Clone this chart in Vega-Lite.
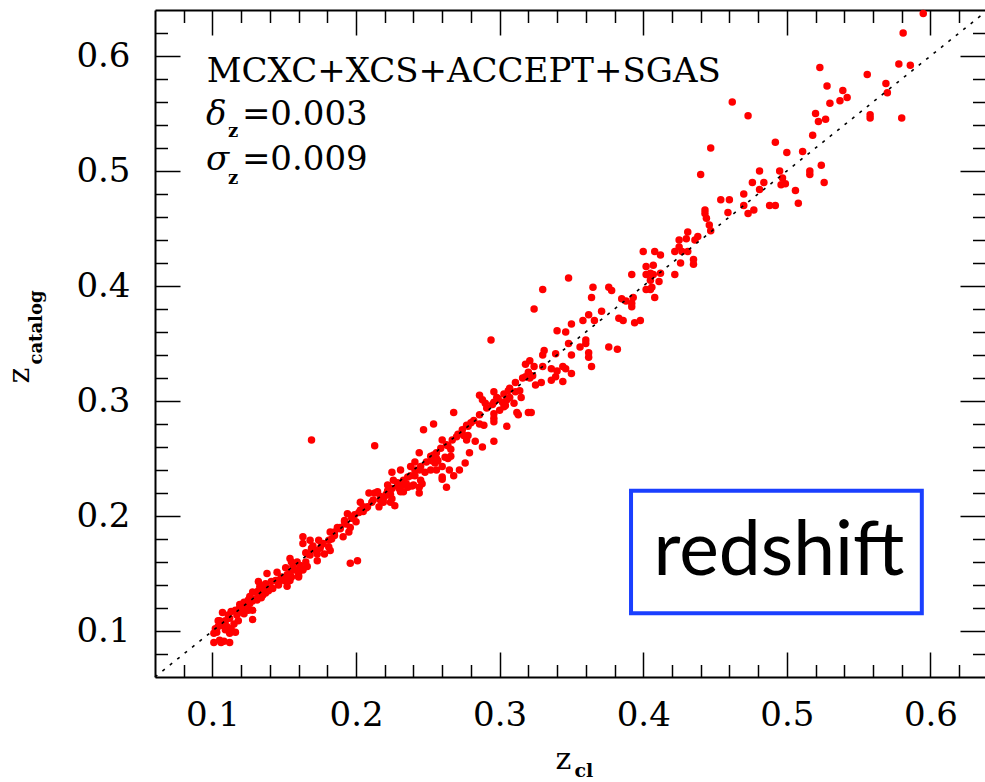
{
"$schema":"https://vega.github.io/schema/vega-lite/v6.json",
"width":830,"height":667,
"autosize":"none",
"padding":{"left":155,"top":10,"right":0,"bottom":105},
"background":"white",
"config":{
 "view":{"stroke":null},
 "axis":{"grid":false,"domain":false,"labels":false,"ticks":true,"tickColor":"black","tickWidth":1.5,"domainColor":"black","domainWidth":2,"labelFont":"DejaVu Serif","labelFontSize":34,"labelColor":"black","titleFont":"DejaVu Serif","titleColor":"black","titleFontWeight":"normal","labelOverlap":false,"labelFlush":false}
},
"datasets":{
 "clusters":[
{"zcl":0.595,"zcat":0.637},{"zcl":0.581,"zcat":0.620},{"zcl":0.523,"zcat":0.590},{"zcl":0.578,"zcat":0.593},{"zcl":0.586,"zcat":0.592},{"zcl":0.556,"zcat":0.584},{"zcl":0.528,"zcat":0.574},{"zcl":0.539,"zcat":0.570},{"zcl":0.569,"zcat":0.576},{"zcl":0.570,"zcat":0.568},{"zcl":0.542,"zcat":0.564},{"zcl":0.537,"zcat":0.561},{"zcl":0.530,"zcat":0.559},{"zcl":0.462,"zcat":0.560},{"zcl":0.473,"zcat":0.548},{"zcl":0.558,"zcat":0.549},{"zcl":0.558,"zcat":0.546},{"zcl":0.580,"zcat":0.546},{"zcl":0.520,"zcat":0.550},{"zcl":0.527,"zcat":0.545},{"zcl":0.522,"zcat":0.543},{"zcl":0.518,"zcat":0.531},{"zcl":0.447,"zcat":0.520},{"zcl":0.492,"zcat":0.525},{"zcl":0.500,"zcat":0.516},{"zcl":0.511,"zcat":0.517},{"zcl":0.524,"zcat":0.505},{"zcl":0.526,"zcat":0.490},{"zcl":0.516,"zcat":0.500},{"zcl":0.516,"zcat":0.497},{"zcl":0.495,"zcat":0.500},{"zcl":0.497,"zcat":0.494},{"zcl":0.496,"zcat":0.488},{"zcl":0.499,"zcat":0.489},{"zcl":0.506,"zcat":0.483},{"zcl":0.508,"zcat":0.472},{"zcl":0.481,"zcat":0.500},{"zcl":0.476,"zcat":0.490},{"zcl":0.484,"zcat":0.490},{"zcl":0.481,"zcat":0.484},{"zcl":0.470,"zcat":0.480},{"zcl":0.488,"zcat":0.470},{"zcl":0.492,"zcat":0.470},{"zcl":0.470,"zcat":0.470},{"zcl":0.477,"zcat":0.466},{"zcl":0.473,"zcat":0.463},{"zcl":0.454,"zcat":0.475},{"zcl":0.460,"zcat":0.475},{"zcl":0.459,"zcat":0.464},{"zcl":0.440,"zcat":0.497},{"zcl":0.443,"zcat":0.466},{"zcl":0.443,"zcat":0.463},{"zcl":0.444,"zcat":0.459},{"zcl":0.446,"zcat":0.453},{"zcl":0.447,"zcat":0.448},{"zcl":0.431,"zcat":0.447},{"zcl":0.430,"zcat":0.441},{"zcl":0.425,"zcat":0.440},{"zcl":0.425,"zcat":0.434},{"zcl":0.422,"zcat":0.430},{"zcl":0.427,"zcat":0.430},{"zcl":0.431,"zcat":0.430},{"zcl":0.438,"zcat":0.443},{"zcl":0.436,"zcat":0.440},{"zcl":0.435,"zcat":0.423},{"zcl":0.435,"zcat":0.419},{"zcl":0.426,"zcat":0.420},{"zcl":0.400,"zcat":0.430},{"zcl":0.408,"zcat":0.430},{"zcl":0.412,"zcat":0.427},{"zcl":0.402,"zcat":0.417},{"zcl":0.407,"zcat":0.418},{"zcl":0.402,"zcat":0.410},{"zcl":0.405,"zcat":0.411},{"zcl":0.407,"zcat":0.410},{"zcl":0.412,"zcat":0.411},{"zcl":0.392,"zcat":0.410},{"zcl":0.422,"zcat":0.410},{"zcl":0.405,"zcat":0.405},{"zcl":0.411,"zcat":0.404},{"zcl":0.406,"zcat":0.399},{"zcl":0.405,"zcat":0.397},{"zcl":0.408,"zcat":0.390},{"zcl":0.376,"zcat":0.399},{"zcl":0.378,"zcat":0.396},{"zcl":0.385,"zcat":0.389},{"zcl":0.393,"zcat":0.390},
{"zcl":0.348,"zcat":0.407},{"zcl":0.365,"zcat":0.399},{"zcl":0.330,"zcat":0.397},{"zcl":0.364,"zcat":0.390},{"zcl":0.388,"zcat":0.387},{"zcl":0.392,"zcat":0.385},{"zcl":0.392,"zcat":0.382},{"zcl":0.402,"zcat":0.397},{"zcl":0.324,"zcat":0.380},{"zcl":0.371,"zcat":0.378},{"zcl":0.383,"zcat":0.372},{"zcl":0.386,"zcat":0.370},{"zcl":0.394,"zcat":0.368},{"zcl":0.398,"zcat":0.370},{"zcl":0.362,"zcat":0.375},{"zcl":0.358,"zcat":0.370},{"zcl":0.366,"zcat":0.370},{"zcl":0.350,"zcat":0.367},{"zcl":0.340,"zcat":0.361},{"zcl":0.346,"zcat":0.360},{"zcl":0.294,"zcat":0.353},{"zcl":0.360,"zcat":0.353},{"zcl":0.360,"zcat":0.350},{"zcl":0.348,"zcat":0.350},{"zcl":0.356,"zcat":0.347},{"zcl":0.376,"zcat":0.347},{"zcl":0.382,"zcat":0.345},{"zcl":0.331,"zcat":0.344},{"zcl":0.330,"zcat":0.340},{"zcl":0.339,"zcat":0.341},{"zcl":0.350,"zcat":0.340},{"zcl":0.362,"zcat":0.342},{"zcl":0.362,"zcat":0.338},{"zcl":0.364,"zcat":0.330},{"zcl":0.321,"zcat":0.335},{"zcl":0.318,"zcat":0.332},{"zcl":0.330,"zcat":0.330},{"zcl":0.336,"zcat":0.328},{"zcl":0.340,"zcat":0.326},{"zcl":0.344,"zcat":0.330},{"zcl":0.346,"zcat":0.328},{"zcl":0.350,"zcat":0.324},{"zcl":0.339,"zcat":0.321},{"zcl":0.336,"zcat":0.318},{"zcl":0.344,"zcat":0.317},{"zcl":0.318,"zcat":0.321},{"zcl":0.321,"zcat":0.320},{"zcl":0.323,"zcat":0.322},{"zcl":0.329,"zcat":0.316},{"zcl":0.325,"zcat":0.314},{"zcl":0.286,"zcat":0.305},{"zcl":0.288,"zcat":0.301},{"zcl":0.290,"zcat":0.298},{"zcl":0.296,"zcat":0.308},{"zcl":0.298,"zcat":0.303},{"zcl":0.296,"zcat":0.299},{"zcl":0.302,"zcat":0.299},{"zcl":0.304,"zcat":0.296},{"zcl":0.305,"zcat":0.301},{"zcl":0.307,"zcat":0.303},{"zcl":0.306,"zcat":0.309},{"zcl":0.311,"zcat":0.308},{"zcl":0.314,"zcat":0.309},{"zcl":0.315,"zcat":0.303},{"zcl":0.310,"zcat":0.298},{"zcl":0.312,"zcat":0.290},{"zcl":0.313,"zcat":0.288},{"zcl":0.320,"zcat":0.290},{"zcl":0.322,"zcat":0.290},{"zcl":0.303,"zcat":0.295},{"zcl":0.296,"zcat":0.289},{"zcl":0.296,"zcat":0.285},{"zcl":0.296,"zcat":0.282},{"zcl":0.305,"zcat":0.278},{"zcl":0.296,"zcat":0.265},{"zcl":0.268,"zcat":0.290},{"zcl":0.254,"zcat":0.280},{"zcl":0.247,"zcat":0.275},{"zcl":0.277,"zcat":0.279},{"zcl":0.280,"zcat":0.281},{"zcl":0.286,"zcat":0.280},{"zcl":0.275,"zcat":0.270},{"zcl":0.278,"zcat":0.270},{"zcl":0.270,"zcat":0.269},{"zcl":0.283,"zcat":0.265},{"zcl":0.288,"zcat":0.260},{"zcl":0.279,"zcat":0.255},{"zcl":0.169,"zcat":0.266},{"zcl":0.213,"zcat":0.261},{"zcl":0.244,"zcat":0.255},{"zcl":0.260,"zcat":0.266},{"zcl":0.264,"zcat":0.261},{"zcl":0.266,"zcat":0.258},{"zcl":0.254,"zcat":0.253},{"zcl":0.256,"zcat":0.250},{"zcl":0.253,"zcat":0.248},{"zcl":0.255,"zcat":0.246},{"zcl":0.257,"zcat":0.248},{"zcl":0.262,"zcat":0.251},{"zcl":0.266,"zcat":0.252},{"zcl":0.256,"zcat":0.240},{"zcl":0.260,"zcat":0.243},{"zcl":0.265,"zcat":0.240},{"zcl":0.272,"zcat":0.240},{"zcl":0.276,"zcat":0.246},{"zcl":0.268,"zcat":0.235},{"zcl":0.260,"zcat":0.234},{"zcl":0.260,"zcat":0.232},{"zcl":0.263,"zcat":0.225},{"zcl":0.241,"zcat":0.247},{"zcl":0.238,"zcat":0.243},{"zcl":0.244,"zcat":0.240},{"zcl":0.248,"zcat":0.238},{"zcl":0.225,"zcat":0.238},{"zcl":0.231,"zcat":0.240},{"zcl":0.236,"zcat":0.234},{"zcl":0.241,"zcat":0.235},{"zcl":0.245,"zcat":0.231},{"zcl":0.246,"zcat":0.228},{"zcl":0.244,"zcat":0.225},{"zcl":0.240,"zcat":0.227},{"zcl":0.226,"zcat":0.231},{"zcl":0.229,"zcat":0.229},{"zcl":0.232,"zcat":0.227},{"zcl":0.235,"zcat":0.228},{"zcl":0.230,"zcat":0.224},{"zcl":0.233,"zcat":0.221},{"zcl":0.236,"zcat":0.225},{"zcl":0.222,"zcat":0.227},{"zcl":0.222,"zcat":0.222},{"zcl":0.224,"zcat":0.219},{"zcl":0.221,"zcat":0.218},{"zcl":0.209,"zcat":0.220},{"zcl":0.213,"zcat":0.220},{"zcl":0.217,"zcat":0.217},{"zcl":0.219,"zcat":0.215},{"zcl":0.244,"zcat":0.220},
{"zcl":0.227,"zcat":0.209},{"zcl":0.211,"zcat":0.212},{"zcl":0.205,"zcat":0.208},{"zcl":0.202,"zcat":0.203},{"zcl":0.205,"zcat":0.204},{"zcl":0.207,"zcat":0.207},{"zcl":0.216,"zcat":0.208},{"zcl":0.219,"zcat":0.212},{"zcl":0.224,"zcat":0.212},{"zcl":0.197,"zcat":0.198},{"zcl":0.200,"zcat":0.195},{"zcl":0.196,"zcat":0.190},{"zcl":0.192,"zcat":0.196},{"zcl":0.193,"zcat":0.193},{"zcl":0.189,"zcat":0.190},{"zcl":0.185,"zcat":0.183},{"zcl":0.187,"zcat":0.190},{"zcl":0.191,"zcat":0.182},{"zcl":0.195,"zcat":0.186},{"zcl":0.183,"zcat":0.180},{"zcl":0.177,"zcat":0.176},{"zcl":0.181,"zcat":0.173},{"zcl":0.175,"zcat":0.172},{"zcl":0.182,"zcat":0.170},{"zcl":0.178,"zcat":0.167},{"zcl":0.173,"zcat":0.167},{"zcl":0.163,"zcat":0.182},{"zcl":0.163,"zcat":0.176},{"zcl":0.168,"zcat":0.179},{"zcl":0.166,"zcat":0.167},{"zcl":0.170,"zcat":0.174},{"zcl":0.173,"zcat":0.161},{"zcl":0.196,"zcat":0.159},{"zcl":0.201,"zcat":0.161},{"zcl":0.154,"zcat":0.163},{"zcl":0.159,"zcat":0.160},{"zcl":0.161,"zcat":0.157},{"zcl":0.156,"zcat":0.156},{"zcl":0.166,"zcat":0.156},{"zcl":0.163,"zcat":0.154},{"zcl":0.160,"zcat":0.151},{"zcl":0.154,"zcat":0.150},{"zcl":0.155,"zcat":0.147},{"zcl":0.150,"zcat":0.144},{"zcl":0.160,"zcat":0.147},{"zcl":0.145,"zcat":0.151},{"zcl":0.138,"zcat":0.150},{"zcl":0.148,"zcat":0.147},{"zcl":0.145,"zcat":0.144},{"zcl":0.141,"zcat":0.143},{"zcl":0.137,"zcat":0.140},{"zcl":0.132,"zcat":0.143},{"zcl":0.133,"zcat":0.139},{"zcl":0.140,"zcat":0.137},{"zcl":0.146,"zcat":0.141},{"zcl":0.152,"zcat":0.139},{"zcl":0.137,"zcat":0.133},{"zcl":0.132,"zcat":0.133},{"zcl":0.128,"zcat":0.134},{"zcl":0.126,"zcat":0.130},{"zcl":0.134,"zcat":0.129},{"zcl":0.131,"zcat":0.127},{"zcl":0.128,"zcat":0.126},{"zcl":0.125,"zcat":0.127},{"zcl":0.122,"zcat":0.125},{"zcl":0.124,"zcat":0.122},{"zcl":0.119,"zcat":0.120},{"zcl":0.128,"zcat":0.110},{"zcl":0.125,"zcat":0.118},{"zcl":0.122,"zcat":0.115},{"zcl":0.116,"zcat":0.118},{"zcl":0.113,"zcat":0.117},{"zcl":0.117,"zcat":0.114},{"zcl":0.112,"zcat":0.111},{"zcl":0.109,"zcat":0.109},{"zcl":0.105,"zcat":0.109},{"zcl":0.106,"zcat":0.105},{"zcl":0.110,"zcat":0.104},{"zcl":0.115,"zcat":0.106},{"zcl":0.118,"zcat":0.109},{"zcl":0.113,"zcat":0.102},{"zcl":0.109,"zcat":0.101},{"zcl":0.104,"zcat":0.104},{"zcl":0.102,"zcat":0.102},{"zcl":0.101,"zcat":0.098},{"zcl":0.112,"zcat":0.098},{"zcl":0.116,"zcat":0.099},{"zcl":0.101,"zcat":0.090},{"zcl":0.105,"zcat":0.092},{"zcl":0.106,"zcat":0.090},{"zcl":0.112,"zcat":0.090},{"zcl":0.108,"zcat":0.091},
{"zcl":0.123,"zcat":0.121},{"zcl":0.126,"zcat":0.124},{"zcl":0.130,"zcat":0.128},{"zcl":0.135,"zcat":0.131},{"zcl":0.139,"zcat":0.135},{"zcl":0.142,"zcat":0.137},{"zcl":0.146,"zcat":0.140},{"zcl":0.148,"zcat":0.146},{"zcl":0.152,"zcat":0.149},{"zcl":0.157,"zcat":0.153},{"zcl":0.161,"zcat":0.156},{"zcl":0.165,"zcat":0.160},{"zcl":0.119,"zcat":0.123},{"zcl":0.132,"zcat":0.135},{"zcl":0.137,"zcat":0.141},{"zcl":0.151,"zcat":0.155},{"zcl":0.155,"zcat":0.160},{"zcl":0.160,"zcat":0.148},{"zcl":0.168,"zcat":0.166},{"zcl":0.172,"zcat":0.170},{"zcl":0.176,"zcat":0.175},{"zcl":0.181,"zcat":0.179},{"zcl":0.185,"zcat":0.186},{"zcl":0.189,"zcat":0.189},{"zcl":0.192,"zcat":0.195},{"zcl":0.169,"zcat":0.172},{"zcl":0.174,"zcat":0.179},{"zcl":0.165,"zcat":0.168},{"zcl":0.199,"zcat":0.201},{"zcl":0.203,"zcat":0.205},{"zcl":0.208,"zcat":0.208},{"zcl":0.212,"zcat":0.214},{"zcl":0.217,"zcat":0.214},{"zcl":0.221,"zcat":0.219},{"zcl":0.225,"zcat":0.224},{"zcl":0.229,"zcat":0.226},{"zcl":0.233,"zcat":0.231},{"zcl":0.238,"zcat":0.235},{"zcl":0.241,"zcat":0.240},{"zcl":0.245,"zcat":0.243},{"zcl":0.249,"zcat":0.247},{"zcl":0.252,"zcat":0.252},{"zcl":0.256,"zcat":0.255},{"zcl":0.259,"zcat":0.259},{"zcl":0.263,"zcat":0.262},{"zcl":0.267,"zcat":0.266},{"zcl":0.271,"zcat":0.271},{"zcl":0.274,"zcat":0.275},{"zcl":0.278,"zcat":0.278},{"zcl":0.282,"zcat":0.283},{"zcl":0.286,"zcat":0.288},{"zcl":0.291,"zcat":0.294},{"zcl":0.295,"zcat":0.297},{"zcl":0.299,"zcat":0.302},{"zcl":0.303,"zcat":0.306},{"zcl":0.307,"zcat":0.311},{"zcl":0.311,"zcat":0.316},{"zcl":0.316,"zcat":0.320},{"zcl":0.320,"zcat":0.325},{"zcl":0.324,"zcat":0.330},{"zcl":0.225,"zcat":0.215},{"zcl":0.231,"zcat":0.221},{"zcl":0.239,"zcat":0.226},{"zcl":0.252,"zcat":0.240},{"zcl":0.264,"zcat":0.250},{"zcl":0.277,"zcat":0.266},{"zcl":0.289,"zcat":0.279},{"zcl":0.300,"zcat":0.292},{"zcl":0.215,"zcat":0.221},{"zcl":0.203,"zcat":0.212},{"zcl":0.194,"zcat":0.202},{"zcl":0.182,"zcat":0.186},{"zcl":0.144,"zcat":0.144},{"zcl":0.135,"zcat":0.137},{"zcl":0.126,"zcat":0.128},{"zcl":0.121,"zcat":0.116},{"zcl":0.111,"zcat":0.114},{"zcl":0.107,"zcat":0.116},{"zcl":0.104,"zcat":0.109},{"zcl":0.103,"zcat":0.099},{"zcl":0.128,"zcat":0.118},{"zcl":0.154,"zcat":0.144},{"zcl":0.163,"zcat":0.153}
 ],
 "identity":[{"zcl":0.06,"zcat":0.06},{"zcl":0.638,"zcat":0.638}]
},
"layer":[
 {"data":{"name":"clusters"},
  "mark":{"type":"circle","size":56,"color":"#ff0000","opacity":1},
  "encoding":{
   "x":{"field":"zcl","type":"quantitative","scale":{"domain":[0.06,0.638],"nice":false,"zero":false},
        "axis":{"orient":"bottom","values":[0.1,0.2,0.3,0.4,0.5,0.6],"format":".1f","labels":true,"tickSize":-25,"labelPadding":73,"labelBaseline":"alphabetic","domain":true,"title":"z","titleX":400,"titleY":91,"titleAlign":"left","titleBaseline":"alphabetic","titleFontSize":30}},
   "y":{"field":"zcat","type":"quantitative","scale":{"domain":[0.06,0.64],"nice":false,"zero":false},
        "axis":{"orient":"left","values":[0.1,0.2,0.3,0.4,0.5,0.6],"format":".1f","labels":true,"tickSize":-25,"labelPadding":50,"domain":true,"title":"z","titleX":-127,"titleY":373,"titleAngle":270,"titleAlign":"left","titleBaseline":"alphabetic","titleFontSize":30}}
  }},
 {"data":{"name":"identity"},
  "mark":{"type":"line","color":"black","strokeWidth":1.6,"strokeDash":[3,6.5]},
  "encoding":{
   "x":{"field":"zcl","type":"quantitative","axis":{"orient":"bottom","values":[0.08,0.12,0.14,0.16,0.18,0.22,0.24,0.26,0.28,0.32,0.34,0.36,0.38,0.42,0.44,0.46,0.48,0.52,0.54,0.56,0.58,0.62],"tickSize":-12.5,"title":"cl","titleX":419,"titleY":99,"titleAlign":"left","titleBaseline":"alphabetic","titleFontSize":19,"titleFontWeight":"bold"}},
   "y":{"field":"zcat","type":"quantitative","axis":{"orient":"left","values":[0.08,0.12,0.14,0.16,0.18,0.22,0.24,0.26,0.28,0.32,0.34,0.36,0.38,0.42,0.44,0.46,0.48,0.52,0.54,0.56,0.58,0.62],"tickSize":-12.5,"title":"catalog","titleX":-114,"titleY":354,"titleAngle":270,"titleAlign":"left","titleBaseline":"alphabetic","titleFontSize":18,"titleFontWeight":"bold"}}
  }},
 {"data":{"values":[{}]},
  "mark":{"type":"rect","fill":"white","stroke":"#1a3fff","strokeWidth":4},
  "encoding":{
   "x":{"datum":0.3915,"type":"quantitative","axis":{"orient":"top","values":[0.1,0.2,0.3,0.4,0.5,0.6],"tickSize":-25,"domain":true,"title":null}},
   "x2":{"datum":0.594},
   "y":{"datum":0.2219,"type":"quantitative","axis":{"orient":"right","values":[0.1,0.2,0.3,0.4,0.5,0.6],"tickSize":-25,"title":null}},
   "y2":{"datum":0.1154}
  }},
 {"data":{"values":[{}]},
  "mark":{"type":"text","text":"redshift","font":"Lato","fontSize":75,"align":"center","baseline":"alphabetic","color":"black"},
  "encoding":{
   "x":{"datum":0.4945,"type":"quantitative","axis":{"orient":"top","values":[0.08,0.12,0.14,0.16,0.18,0.22,0.24,0.26,0.28,0.32,0.34,0.36,0.38,0.42,0.44,0.46,0.48,0.52,0.54,0.56,0.58,0.62],"tickSize":-12.5,"title":null}},
   "y":{"datum":0.1484,"type":"quantitative","axis":{"orient":"right","values":[0.08,0.12,0.14,0.16,0.18,0.22,0.24,0.26,0.28,0.32,0.34,0.36,0.38,0.42,0.44,0.46,0.48,0.52,0.54,0.56,0.58,0.62],"tickSize":-12.5,"title":null}}
  }},
 {"data":{"values":[{}]},
  "mark":{"type":"text","text":"MCXC+XCS+ACCEPT+SGAS","font":"DejaVu Serif","fontSize":34,"align":"left","baseline":"alphabetic","color":"black"},
  "encoding":{"x":{"datum":0.096,"type":"quantitative","axis":null},"y":{"datum":0.5774,"type":"quantitative","axis":null}}},
 {"data":{"values":[{}]},
  "mark":{"type":"text","text":"δ","font":"DejaVu Serif","fontStyle":"italic","fontSize":34,"align":"left","baseline":"alphabetic","color":"black"},
  "encoding":{"x":{"datum":0.0955,"type":"quantitative","axis":null},"y":{"datum":0.5397,"type":"quantitative","axis":null}}},
 {"data":{"values":[{}]},
  "mark":{"type":"text","text":"z","font":"DejaVu Serif","fontWeight":"bold","fontSize":18,"align":"left","baseline":"alphabetic","color":"black"},
  "encoding":{"x":{"datum":0.1108,"type":"quantitative","axis":null},"y":{"datum":0.5296,"type":"quantitative","axis":null}}},
 {"data":{"values":[{}]},
  "mark":{"type":"text","text":"=0.003","font":"DejaVu Serif","fontSize":34,"align":"left","baseline":"alphabetic","color":"black"},
  "encoding":{"x":{"datum":0.1205,"type":"quantitative","axis":null},"y":{"datum":0.5397,"type":"quantitative","axis":null}}},
 {"data":{"values":[{}]},
  "mark":{"type":"text","text":"σ","font":"DejaVu Serif","fontStyle":"italic","fontSize":34,"align":"left","baseline":"alphabetic","color":"black"},
  "encoding":{"x":{"datum":0.0955,"type":"quantitative","axis":null},"y":{"datum":0.5009,"type":"quantitative","axis":null}}},
 {"data":{"values":[{}]},
  "mark":{"type":"text","text":"z","font":"DejaVu Serif","fontWeight":"bold","fontSize":18,"align":"left","baseline":"alphabetic","color":"black"},
  "encoding":{"x":{"datum":0.1108,"type":"quantitative","axis":null},"y":{"datum":0.4887,"type":"quantitative","axis":null}}},
 {"data":{"values":[{}]},
  "mark":{"type":"text","text":"=0.009","font":"DejaVu Serif","fontSize":34,"align":"left","baseline":"alphabetic","color":"black"},
  "encoding":{"x":{"datum":0.1205,"type":"quantitative","axis":null},"y":{"datum":0.5009,"type":"quantitative","axis":null}}}
],
"resolve":{"axis":{"x":"independent","y":"independent"}}
}
